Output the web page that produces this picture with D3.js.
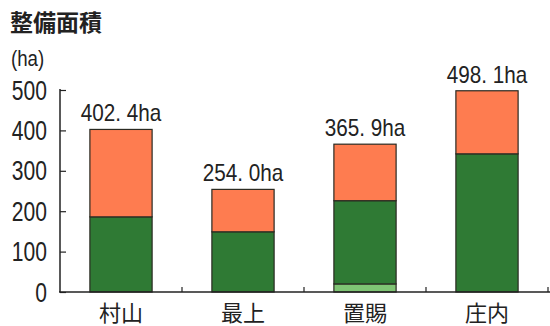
<!DOCTYPE html>
<html><head><meta charset="utf-8">
<script src="https://cdn.jsdelivr.net/npm/d3@7"></script>
<style>body{margin:0;background:#fff}svg{display:block}</style>
</head><body>
<script>
const categories = ["村山","最上","置賜","庄内"];
const lightGreen = [0, 0, 20, 0];
const darkGreen = [186, 149, 206, 342];
const orange = [216.4, 105.0, 139.9, 156.1];
const totals = [402.4, 254.0, 365.9, 498.1];
const yTicks = [0, 100, 200, 300, 400, 500];
const seriesKeys = ["lightGreen","darkGreen","orange"];
const colors = {lightGreen:"#7fc474", darkGreen:"#2f7a34", orange:"#fe7c50"};

const W = 550, H = 326;
const svg = d3.select("body").append("svg").attr("width", W).attr("height", H);

const rows = categories.map((c,i)=>({cat:c, lightGreen:lightGreen[i], darkGreen:darkGreen[i], orange:orange[i], total:totals[i]}));
const x = d3.scaleBand().domain(categories).range([60, 548]).paddingInner(0.49).paddingOuter(0.245);
const y = d3.scaleLinear().domain([0, 500]).range([292, 90]);

const stack = d3.stack().keys(seriesKeys)(rows);

svg.append("g").selectAll("g").data(stack).join("g")
  .attr("fill", d => colors[d.key])
  .selectAll("rect").data(d => d.filter(p => p[1]-p[0] > 0)).join("rect")
  .attr("x", d => x(d.data.cat))
  .attr("width", x.bandwidth())
  .attr("y", d => y(d[1]))
  .attr("height", d => y(d[0]) - y(d[1]))
  .attr("stroke", "#2a2a22").attr("stroke-width", 1.2);

// value labels
svg.append("g").selectAll("text").data(rows).join("text")
  .attr("transform", d => `translate(${x(d.cat)+x.bandwidth()/2},${y(d.total)-8}) scale(0.9,1)`)
  .attr("text-anchor","middle")
  .attr("font-family","Liberation Sans, Arial, sans-serif")
  .attr("font-size", 23).attr("fill","#222")
  .text(d => d.total.toFixed(1).replace(".", ". ") + "ha");

// y axis
const yAxis = d3.axisRight(y).tickValues(yTicks).tickSize(6).tickFormat("");
const ga = svg.append("g").attr("transform","translate(60,0)").call(yAxis);
ga.select(".domain").attr("stroke","#222").attr("stroke-width",1.5).attr("d","M0,89V292");
ga.selectAll(".tick line").attr("stroke","#222").attr("stroke-width",1.2);

svg.append("g").selectAll("text").data(yTicks).join("text")
  .attr("transform", d => `translate(47,${y(d)+9.5}) scale(0.78,1)`)
  .attr("text-anchor","end")
  .attr("font-family","Liberation Sans, Arial, sans-serif")
  .attr("font-size", 27).attr("fill","#222")
  .text(d => d);

// x axis
svg.append("line").attr("x1",59).attr("x2",550).attr("y1",292).attr("y2",292)
  .attr("stroke","#222").attr("stroke-width",1.5);
const bounds = categories.map(c => x(c) + x.bandwidth() + x.step()*0.245);
svg.append("g").selectAll("line").data(bounds).join("line")
  .attr("x1", d=>d).attr("x2", d=>d).attr("y1",292).attr("y2",287)
  .attr("stroke","#222").attr("stroke-width",1.2);

svg.append("g").selectAll("text").data(categories).join("text")
  .attr("x", d => x(d)+x.bandwidth()/2).attr("y", 321)
  .attr("text-anchor","middle")
  .attr("font-family","Noto Sans CJK JP, sans-serif")
  .attr("font-size", 22).attr("fill","#222")
  .text(d => d);

// title
svg.append("text").attr("x",10).attr("y",31)
  .attr("font-family","Noto Sans CJK JP, sans-serif").attr("font-weight","bold")
  .attr("font-size",23).attr("fill","#222").text("整備面積");
svg.append("text").attr("transform","translate(11,66) scale(0.85,1)")
  .attr("font-family","Liberation Sans, Arial, sans-serif")
  .attr("font-size",22).attr("fill","#222").text("(ha)");
</script>
</body></html>
